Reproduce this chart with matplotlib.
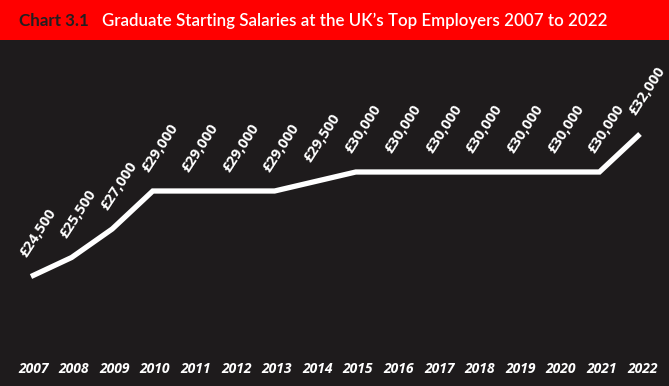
import matplotlib
matplotlib.use("Agg")
import matplotlib.pyplot as plt

years = [2007, 2008, 2009, 2010, 2011, 2012, 2013, 2014, 2015,
         2016, 2017, 2018, 2019, 2020, 2021, 2022]
salaries = [24500, 25500, 27000, 29000, 29000, 29000, 29000, 29500, 30000,
            30000, 30000, 30000, 30000, 30000, 30000, 32000]
value_labels = ["£24,500", "£25,500", "£27,000", "£29,000", "£29,000", "£29,000",
                "£29,000", "£29,500", "£30,000", "£30,000", "£30,000", "£30,000",
                "£30,000", "£30,000", "£30,000", "£32,000"]
title_prefix = "Chart 3.1"
title_text = "Graduate Starting Salaries at the UK’s Top Employers 2007 to 2022"

BG = "#1e1b1c"
RED = "#ff0000"
W, H = 669, 386
fig = plt.figure(figsize=(W / 100, H / 100), dpi=100, facecolor=BG)
renderer = fig.canvas.get_renderer()


def fit(t, target_px):
    bb = t.get_window_extent(renderer)
    t.set_fontsize(t.get_fontsize() * target_px / bb.width)


# red banner
banner = fig.add_axes([0, 1 - 40 / H, 1, 40 / H])
banner.set_facecolor(RED)
banner.set_xticks([]); banner.set_yticks([])
for s in banner.spines.values():
    s.set_visible(False)
banner.set_xlim(0, W); banner.set_ylim(40, 0)
t1 = banner.text(19, 19, title_prefix, color="#231f20", fontsize=13, fontweight="bold",
                 family="Lato", va="center_baseline", ha="left")
t2 = banner.text(102, 19, title_text, color="white", fontsize=13, fontweight="semibold",
                 family="Lato", va="center_baseline", ha="left")
fit(t1, 70)
fit(t2, 500)

ax = fig.add_axes([0, 0, 1, 1 - 40 / H])
ax.set_facecolor(BG)
for s in ax.spines.values():
    s.set_visible(False)
ax.set_xticks([]); ax.set_yticks([])

px_per_year = (640 - 31) / 15
ax.set_xlim(2007 - 31 / px_per_year, 2007 + (W - 31) / px_per_year)
px_per_1000 = 19.0
ax.set_ylim(29000 - (386 - 191) / px_per_1000 * 1000, 29000 + (191 - 40) / px_per_1000 * 1000)

ax.plot(years, salaries, color="white", lw=3.8, solid_joinstyle="miter", solid_capstyle="butt")

for x, y, lab in zip(years, salaries, value_labels):
    ax.annotate(lab, (x, y), xytext=(-1.5, 12), textcoords="offset points",
                rotation=57, rotation_mode="anchor", ha="left", va="bottom",
                color="white", fontsize=10.5, fontweight="bold", family="Open Sans")

for x in years:
    ax.annotate(str(x), (x, 17 / (H - 40)), xycoords=ax.get_xaxis_transform(),
                xytext=(1.5, 0), textcoords="offset points",
                color="white", fontsize=10, fontweight="bold", fontstyle="italic",
                family="Open Sans", ha="center", va="center")

fig.savefig("out.png", dpi=100, facecolor=BG)
